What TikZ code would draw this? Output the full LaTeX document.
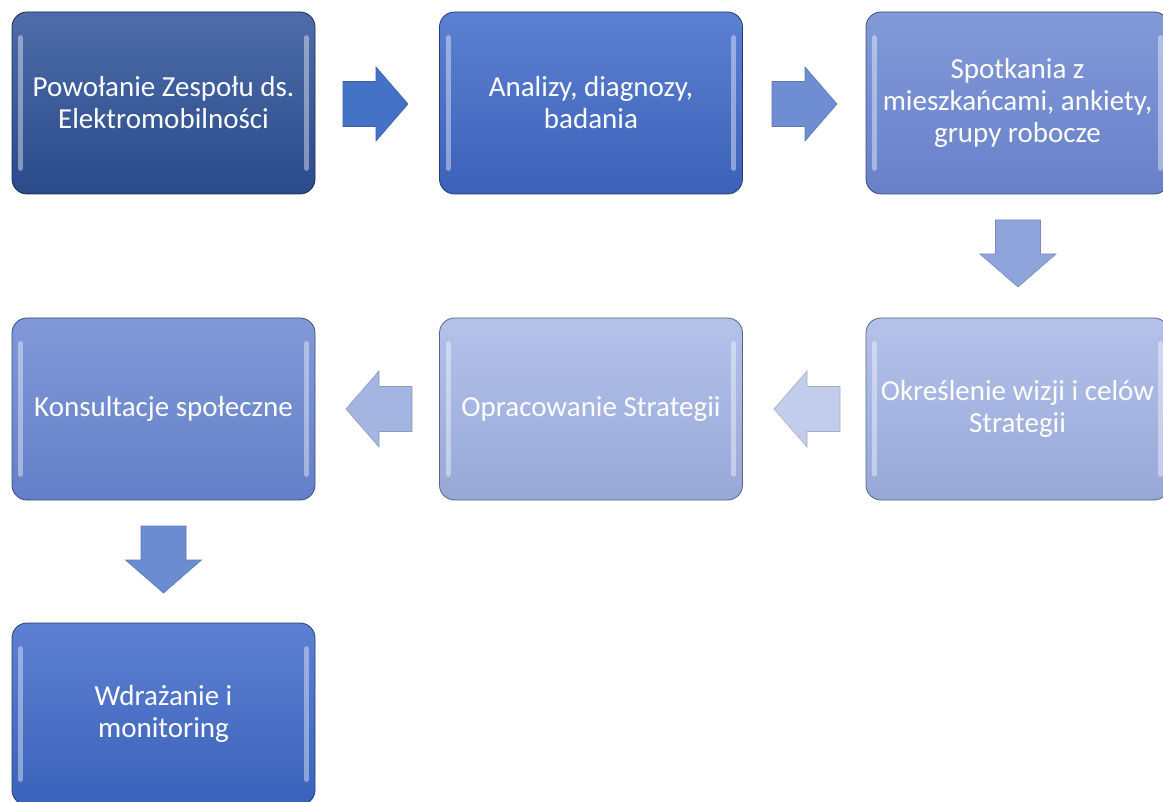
\documentclass[tikz,border=0pt]{standalone}
\usepackage{fontspec}
\setmainfont{Carlito}
\begin{document}
\begin{tikzpicture}[x=1pt,y=-1pt,
  box/.style={rounded corners=15pt, minimum width=303pt, minimum height=182pt,
    draw=#1!60!black, line width=0.8pt, text=white, align=center, inner sep=0pt,
    font=\fontsize{29}{32}\selectfont},
  hl/.style={line width=5pt, white, opacity=0.4, line cap=round},
  arr/.style={fill=#1, draw=#1!85!black, line width=0.6pt, line join=miter}]
\useasboundingbox (0,0) rectangle (1163,802);
\newcommand\RArrow[3]{\path[arr=#3] (#1,{#2-22.5}) -- ({#1+33},{#2-22.5}) -- ({#1+33},{#2-37}) -- ({#1+65},#2) -- ({#1+33},{#2+37}) -- ({#1+33},{#2+22.5}) -- (#1,{#2+22.5}) -- cycle;}
\newcommand\LArrow[3]{\path[arr=#3] (#1,{#2-22.5}) -- ({#1-33},{#2-22.5}) -- ({#1-33},{#2-38}) -- ({#1-66},#2) -- ({#1-33},{#2+38}) -- ({#1-33},{#2+22.5}) -- (#1,{#2+22.5}) -- cycle;}
\newcommand\DArrow[3]{\path[arr=#3] ({#1-22.5},#2) -- ({#1-22.5},{#2+34}) -- ({#1-38},{#2+34}) -- (#1,{#2+67}) -- ({#1+38},{#2+34}) -- ({#1+22.5},{#2+34}) -- ({#1+22.5},#2) -- cycle;}
\definecolor{c1t}{HTML}{4D6CA9}\definecolor{c1b}{HTML}{2A4A8A}
\definecolor{c2t}{HTML}{5C80D2}\definecolor{c2b}{HTML}{3B62B9}
\definecolor{c3t}{HTML}{8399D8}\definecolor{c3b}{HTML}{6781CA}
\definecolor{c4t}{HTML}{B4C2EA}\definecolor{c4b}{HTML}{97A8D8}
\definecolor{c6t}{HTML}{8199D8}\definecolor{c6b}{HTML}{637FC8}
\definecolor{c7t}{HTML}{5D80D2}\definecolor{c7b}{HTML}{3A62BA}
\definecolor{a1}{HTML}{4472C4}\definecolor{a2}{HTML}{6E8DD2}
\definecolor{a3}{HTML}{8FA4DA}\definecolor{a4}{HTML}{C2CCEB}
\definecolor{a5}{HTML}{A5B5E2}\definecolor{a6}{HTML}{6C8CD2}
\node[box=c1b, top color=c1t, bottom color=c1b] (b1) at (163.5,103) {Powołanie Zespołu ds.\\Elektromobilności};
\node[box=c2b, top color=c2t, bottom color=c2b] (b2) at (591,103) {Analizy, diagnozy,\\badania};
\node[box=c3b, top color=c3t, bottom color=c3b] (b3) at (1017.5,103) {Spotkania z\\mieszkańcami, ankiety,\\grupy robocze};
\node[box=c4b, top color=c4t, bottom color=c4b] (b4) at (1017.5,409) {Określenie wizji i celów\\Strategii};
\node[box=c4b, top color=c4t, bottom color=c4b] (b5) at (591,409) {Opracowanie Strategii};
\node[box=c6b, top color=c6t, bottom color=c6b] (b6) at (163.5,409) {Konsultacje społeczne};
\node[box=c7b, top color=c7t, bottom color=c7b] (b7) at (163.5,714) {Wdrażanie i\\monitoring};
\foreach \b in {b1,b2,b3,b4,b5,b6,b7}{
  \draw[hl] ([xshift=9pt,yshift=-26pt]\b.north west) -- ([xshift=9pt,yshift=26pt]\b.south west);
  \draw[hl] ([xshift=-9pt,yshift=-26pt]\b.north east) -- ([xshift=-9pt,yshift=26pt]\b.south east);
}
\RArrow{343}{104}{a1}
\RArrow{772}{104}{a2}
\DArrow{1018}{220}{a3}
\LArrow{840}{409}{a4}
\LArrow{412}{409}{a5}
\DArrow{163.5}{526}{a6}
\end{tikzpicture}
\end{document}
